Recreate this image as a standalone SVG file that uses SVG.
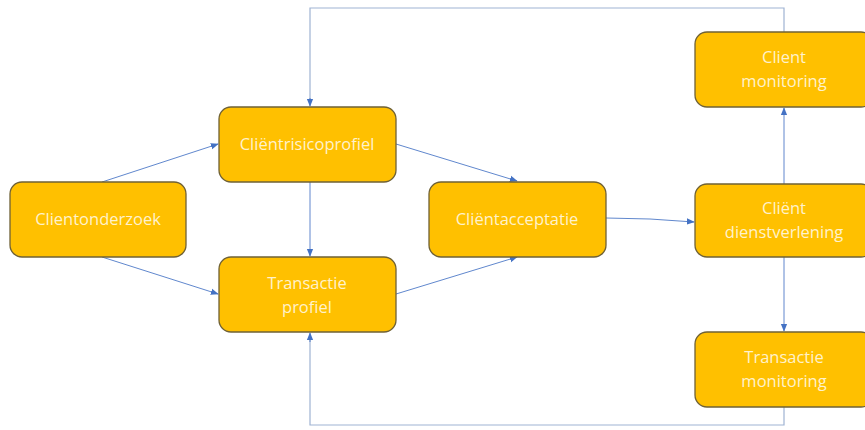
<svg xmlns="http://www.w3.org/2000/svg" width="865" height="430" viewBox="0 0 865 430">
<defs>
<marker id="arr" viewBox="0 0 10 10" refX="9" refY="5" markerWidth="8" markerHeight="8" orient="auto" markerUnits="userSpaceOnUse">
<path d="M0,1 L10,5 L0,9 z" fill="#4472C4"/>
</marker>
<style>
.box{fill:#FFC000;stroke:#6f6136;stroke-width:1.3}
.t{font-family:"Open Sans","Liberation Sans",sans-serif;font-size:16.5px;fill:#FFF2CC;text-anchor:middle}
.c{fill:none;stroke:#4472C4;stroke-width:1;stroke-opacity:0.85}
.loop{fill:none;stroke:#9fb3d3;stroke-width:1.2}
</style>
</defs>
<rect width="865" height="430" fill="#ffffff"/>
<g id="connectors">
<line class="c" x1="102" y1="182" x2="218" y2="144" marker-end="url(#arr)"/>
<line class="c" x1="102" y1="257" x2="218" y2="294" marker-end="url(#arr)"/>
<line class="c" x1="310" y1="182" x2="310" y2="256" marker-end="url(#arr)"/>
<line class="c" x1="396" y1="144" x2="517" y2="181" marker-end="url(#arr)"/>
<line class="c" x1="396" y1="294" x2="517" y2="257" marker-end="url(#arr)"/>
<path class="c" d="M606,218 L650,219 L694,222" marker-end="url(#arr)"/>
<line class="c" x1="784" y1="184" x2="784" y2="108" marker-end="url(#arr)"/>
<line class="c" x1="784" y1="257" x2="784" y2="331" marker-end="url(#arr)"/>
<path class="loop" d="M784,32 L784,8 L310,8 L310,100"/>
<line class="c" x1="310" y1="98" x2="310" y2="106" marker-end="url(#arr)"/>
<path class="loop" d="M784,407 L784,425 L310,425 L310,340"/>
<line class="c" x1="310" y1="342" x2="310" y2="333" marker-end="url(#arr)"/>
</g>
<g id="clientonderzoek">
<rect class="box" x="10" y="182" width="176" height="75" rx="12"/>
<text class="t" x="98" y="225">Clientonderzoek</text>
</g>
<g id="clientrisicoprofiel">
<rect class="box" x="219" y="107" width="177" height="75" rx="12"/>
<text class="t" x="307" y="150">Cliëntrisicoprofiel</text>
</g>
<g id="transactieprofiel">
<rect class="box" x="219" y="257" width="177" height="75" rx="12"/>
<text class="t" x="307" y="289">Transactie</text>
<text class="t" x="307" y="313">profiel</text>
</g>
<g id="clientacceptatie">
<rect class="box" x="429" y="182" width="177" height="75" rx="12"/>
<text class="t" x="517" y="225">Cliëntacceptatie</text>
</g>
<g id="clientmonitoring">
<rect class="box" x="695" y="32" width="178" height="75" rx="12"/>
<text class="t" x="784" y="63">Client</text>
<text class="t" x="784" y="87">monitoring</text>
</g>
<g id="clientdienstverlening">
<rect class="box" x="695" y="184" width="178" height="73" rx="12"/>
<text class="t" x="784" y="214">Cliënt</text>
<text class="t" x="784" y="238">dienstverlening</text>
</g>
<g id="transactiemonitoring">
<rect class="box" x="695" y="332" width="178" height="75" rx="12"/>
<text class="t" x="784" y="363">Transactie</text>
<text class="t" x="784" y="387">monitoring</text>
</g>
</svg>
